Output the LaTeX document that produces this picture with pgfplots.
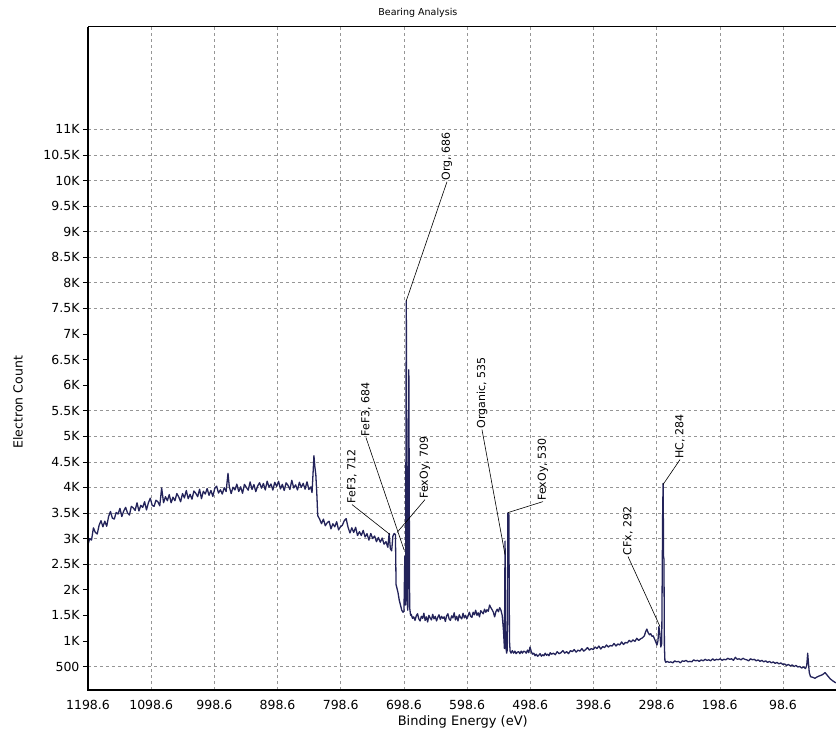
\documentclass[border=0pt]{standalone}
\usepackage{pgfplots}
\pgfplotsset{compat=1.18}
\usepackage{fontspec}
\setmainfont{DejaVu Sans}
\definecolor{trace}{RGB}{35,35,90}
\definecolor{gridc}{RGB}{150,150,150}
\begin{document}
\begin{tikzpicture}
\begin{axis}[
  scale only axis, width=748pt, height=663pt,
  x dir=reverse, xmin=14.7, xmax=1198.6, ymin=40, ymax=13000,
  axis line style={draw=none},
  scaled y ticks=false, scaled x ticks=false,
  xtick={1198.6,1098.6,998.6,898.6,798.6,698.6,598.6,498.6,398.6,298.6,198.6,98.6},
  xticklabels={1198.6,1098.6,998.6,898.6,798.6,698.6,598.6,498.6,398.6,298.6,198.6,98.6},
  ytick={500,1000,1500,2000,2500,3000,3500,4000,4500,5000,5500,6000,6500,7000,7500,8000,8500,9000,9500,10000,10500,11000},
  yticklabels={500,1K,1.5K,2K,2.5K,3K,3.5K,4K,4.5K,5K,5.5K,6K,6.5K,7K,7.5K,8K,8.5K,9K,9.5K,10K,10.5K,11K},
  grid=none,
  tick label style={font=\fontsize{12.5}{14}\selectfont},
  xtick style={draw=none},
  ytick style={draw=black, line width=0.6pt},
  tick align=outside, major tick length=5pt,
  xticklabel style={yshift=-2pt},
]
\coordinate (LL) at (rel axis cs:0,0);
\coordinate (UR) at (rel axis cs:1,1);
\coordinate (T) at (rel axis cs:0.441,1);
\coordinate (XL) at (rel axis cs:0.501,0);
\coordinate (YL) at (rel axis cs:0,0.434);
\draw[gridc, dash pattern=on 3pt off 3pt, line width=0.6pt]
  (axis cs:1098.6,40) -- (axis cs:1098.6,13000)
  (axis cs:998.6,40) -- (axis cs:998.6,13000)
  (axis cs:898.6,40) -- (axis cs:898.6,13000)
  (axis cs:798.6,40) -- (axis cs:798.6,13000)
  (axis cs:698.6,40) -- (axis cs:698.6,13000)
  (axis cs:598.6,40) -- (axis cs:598.6,13000)
  (axis cs:498.6,40) -- (axis cs:498.6,13000)
  (axis cs:398.6,40) -- (axis cs:398.6,13000)
  (axis cs:298.6,40) -- (axis cs:298.6,13000)
  (axis cs:198.6,40) -- (axis cs:198.6,13000)
  (axis cs:98.6,40) -- (axis cs:98.6,13000)
  (axis cs:1198.6,500) -- (axis cs:14.7,500)
  (axis cs:1198.6,2500) -- (axis cs:14.7,2500)
  (axis cs:1198.6,3000) -- (axis cs:14.7,3000)
  (axis cs:1198.6,3500) -- (axis cs:14.7,3500)
  (axis cs:1198.6,4000) -- (axis cs:14.7,4000)
  (axis cs:1198.6,4500) -- (axis cs:14.7,4500)
  (axis cs:1198.6,5000) -- (axis cs:14.7,5000)
  (axis cs:1198.6,5500) -- (axis cs:14.7,5500)
  (axis cs:1198.6,7500) -- (axis cs:14.7,7500)
  (axis cs:1198.6,8000) -- (axis cs:14.7,8000)
  (axis cs:1198.6,8500) -- (axis cs:14.7,8500)
  (axis cs:1198.6,9000) -- (axis cs:14.7,9000)
  (axis cs:1198.6,9500) -- (axis cs:14.7,9500)
  (axis cs:1198.6,10000) -- (axis cs:14.7,10000)
  (axis cs:1198.6,10500) -- (axis cs:14.7,10500)
  (axis cs:1198.6,11000) -- (axis cs:14.7,11000);
\addplot[trace, line width=1.3pt, line join=round] table {
E y
1198.6 2880
1196 3000
1193 2970
1190 3210
1187 3120
1184 3090
1181 3260
1178 3350
1175 3230
1172 3340
1169 3240
1166 3430
1163 3530
1160 3400
1157 3380
1154 3510
1151 3480
1148 3590
1145 3430
1142 3540
1139 3610
1136 3500
1133 3460
1130 3630
1127 3600
1124 3550
1121 3700
1118 3540
1115 3650
1112 3610
1109 3720
1106 3560
1103 3700
1100 3790
1097 3650
1094 3630
1091 3750
1088 3720
1085 3640
1082 3990
1079 3700
1076 3820
1073 3740
1070 3860
1067 3700
1064 3810
1061 3740
1058 3880
1055 3815
1052 3720
1049 3880
1046 3795
1043 3940
1040 3780
1037 3865
1034 3770
1031 3930
1028 3885
1025 3820
1022 3965
1019 3780
1016 3925
1013 3870
1010 3980
1007 3845
1004 3940
1001 3825
998 3980
995 4025
992 3890
989 3955
986 3870
983 3995
980 3920
977 4275
975 4018
972 3880
969 4005
966 3950
963 4065
960 3920
957 4012
954 3885
951 4060
948 4002
945 3945
942 4108
939 3960
936 4055
933 3918
930 4030
927 4092
924 3985
921 4078
918 3950
915 4122
912 4005
909 4067
906 3948
903 4100
900 4020
897 4120
894 3970
891 4060
888 3940
885 4090
882 4040
879 3960
876 4140
873 3990
870 4050
867 3950
864 4100
861 4000
858 4080
855 3965
852 4110
849 3960
846 4010
844 3900
842.5 4250
841 4620
839.5 4400
838 4250
836.5 3900
835 3450
832 3380
829 3290
826 3380
823 3250
820 3310
817 3340
814 3190
811 3290
808 3230
805 3330
802 3170
799 3230
796 3260
793 3350
790 3390
787 3220
784 3110
781 3210
778 3120
775 3220
772 3060
769 3135
766 3060
763 3160
760 3030
757 3095
754 2970
751 3100
748 3000
745 3050
742 2940
739 3020
736 2930
733 3010
730 2890
727 2940
724 2830
722 3100
720 2800
718 2760
716 3050
714 3100
712 3080
711 2100
708 1950
706 1800
704 1700
702 1600
700 1560
698.5 1580
697.2 2650
696 1700
694.8 7650
693.6 1800
692.5 1600
690.8 6300
689.5 1650
688 1500
687 1520
685 1440
683 1470
681 1400
679 1490
677 1530
675 1430
673 1390
671 1480
669 1440
667 1540
665 1400
663 1470
661 1370
659 1500
657 1450
655 1410
653 1520
651 1430
649 1480
647 1390
645 1460
643 1510
641 1420
639 1480
637 1440
635 1470
633 1380
631 1490
629 1530
627 1430
625 1400
623 1490
621 1450
619 1550
617 1410
615 1480
613 1390
611 1510
609 1460
607 1430
605 1540
603 1450
601 1500
599 1430
597 1490
595 1560
593 1480
591 1460
589 1560
587 1510
585 1600
583 1500
581 1550
579 1470
577 1590
575 1560
573 1530
571 1620
569 1560
567 1610
565 1580
563 1700
561 1650
559 1610
557 1560
555 1470
553 1570
551 1620
549 1570
547 1650
545 1600
543 1500
541 1200
539.5 850
538.5 2950
537.5 900
536 760
535 820
534 3500
532.5 3480
531.5 1000
530.5 800
529 760
527 810
525 760
523 800
521 750
519 780
517 790
515 750
513 800
511 760
509 800
507 790
505 760
503 820
501 770
499 880
497 790
495 740
493 760
491 710
489 740
487 700
485 720
483 750
481 700
479 730
477 710
475 760
473 720
471 740
469 710
467 770
465 740
462 760
459 730
456 790
453 750
450 770
447 810
444 760
441 790
438 750
435 810
432 790
429 830
426 780
423 820
420 800
417 850
414 800
411 830
408 870
405 820
402 850
399 830
396 880
393 850
390 900
387 840
384 890
381 870
378 920
375 880
372 910
369 900
366 950
363 900
360 940
357 920
354 980
351 930
348 970
345 960
342 1010
339 980
336 1020
333 990
330 1050
327 1010
324 1040
321 1060
318 1100
316 1180
314 1230
312 1160
310 1120
308 1140
306 1090
304 1100
302 1040
300 980
298 920
296.5 1000
295 1280
293.5 1150
292 880
290.5 950
289 3600
288.3 4080
287.6 2650
287 2600
286.3 900
285.5 620
284 580
282 600
279 580
276 590
273 570
270 610
267 590
264 600
261 570
258 610
255 600
252 620
249 590
246 600
243 590
240 630
237 610
234 620
231 600
228 630
225 610
222 640
219 620
216 630
213 610
210 650
207 620
204 640
201 630
198 650
195 620
192 640
189 630
186 660
183 640
180 650
177 620
174 680
171 640
168 650
165 630
162 660
159 640
156 630
153 610
150 650
147 630
144 640
141 610
138 630
135 600
132 620
129 590
126 610
123 580
120 600
117 570
114 590
111 560
108 580
105 550
102 570
99 540
96 550
93 520
90 540
87 510
84 530
81 500
78 520
75 490
72 500
69 470
66 490
63 460
61 520
59.5 760
58.5 600
57 380
55 300
52 290
48 270
44 300
40 320
36 340
32 380
28 320
24 260
20 220
15 180
};
% annotations
\begin{scope}[every node/.style={rotate=90, anchor=west, inner sep=1pt, font=\fontsize{11}{13}\selectfont}]
\draw[line width=0.6pt] (axis cs:630.4,9975) -- (axis cs:694.8,7650);
\node at (axis cs:630.4,9975) {Org, 686};
\draw[line width=0.6pt] (axis cs:575.0,5130) -- (axis cs:538.6,2688);
\node at (axis cs:575.0,5130) {Organic, 535};
\draw[line width=0.6pt] (axis cs:478.4,3723) -- (axis cs:533.8,3508);
\node at (axis cs:478.4,3723) {FexOy, 530};
\draw[line width=0.6pt] (axis cs:665.2,3762) -- (axis cs:709.5,3118);
\node at (axis cs:665.2,3762) {FexOy, 709};
\draw[line width=0.6pt] (axis cs:758.6,4974) -- (axis cs:698.4,2782);
\node at (axis cs:758.6,4974) {FeF3, 684};
\draw[line width=0.6pt] (axis cs:780.7,3665) -- (axis cs:720.6,3079);
\node at (axis cs:780.7,3665) {FeF3, 712};
\draw[line width=0.6pt] (axis cs:343.9,2649) -- (axis cs:293.3,1282);
\node at (axis cs:343.9,2649) {CFx, 292};
\draw[line width=0.6pt] (axis cs:261.6,4544) -- (axis cs:288.5,4055);
\node at (axis cs:261.6,4544) {HC, 284};
\end{scope}
\end{axis}
\draw[line width=2pt] (LL|-UR) -- (LL) -- (LL-|UR);
\draw[line width=1pt] (LL|-UR) -- (UR);
\node[font=\fontsize{9.5}{11}\selectfont] at ([yshift=14pt]T) {Bearing Analysis};
\node[font=\fontsize{13}{15}\selectfont] at ([yshift=-32pt]XL) {Binding Energy (eV)};
\node[rotate=90, font=\fontsize{12.5}{14}\selectfont] at ([xshift=-70pt]YL) {Electron Count};
\pgfresetboundingbox
\path ([xshift=-88pt,yshift=-44pt]LL) rectangle ([yshift=27pt]UR);
\end{tikzpicture}
\end{document}
